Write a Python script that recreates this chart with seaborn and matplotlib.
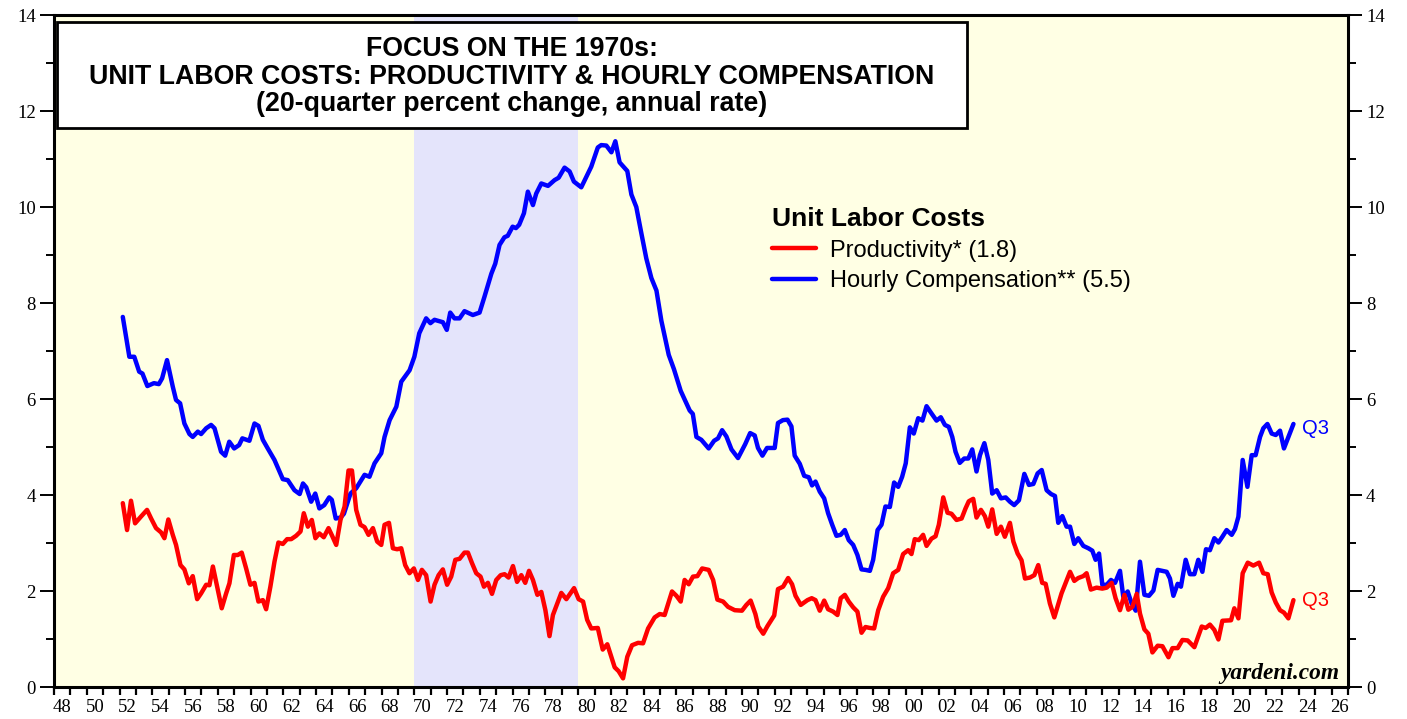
import matplotlib
matplotlib.use("Agg")
import matplotlib.pyplot as plt
from matplotlib.patches import Rectangle
from matplotlib.ticker import MultipleLocator
import seaborn as sns

# Hourly compensation, 20-quarter % change, annual rate
comp_year = [1952.2, 1952.6, 1952.9, 1953.2, 1953.4, 1953.7, 1954.1, 1954.4, 1954.6, 1954.9,
             1955.25, 1955.45, 1955.7, 1955.96, 1956.27, 1956.47, 1956.78, 1956.98, 1957.29, 1957.59,
             1957.8, 1958.2, 1958.45, 1958.7, 1959.0, 1959.3, 1959.5, 1959.93, 1960.24, 1960.48,
             1960.75, 1961.05, 1961.46, 1961.97, 1962.27, 1962.68, 1963.0, 1963.2, 1963.4, 1963.7,
             1963.95, 1964.2, 1964.5, 1964.8, 1964.96, 1965.2, 1965.5, 1965.7, 1966.1, 1966.45,
             1966.96, 1967.26, 1967.57, 1967.98, 1968.18, 1968.49, 1968.9, 1969.2, 1969.71, 1970.0,
             1970.3, 1970.72, 1970.98, 1971.23, 1971.74, 1971.98, 1972.19, 1972.45, 1972.76, 1973.06,
             1973.57, 1973.98, 1974.28, 1974.7, 1974.94, 1975.2, 1975.5, 1975.7, 1976.0, 1976.2,
             1976.4, 1976.69, 1976.93, 1977.24, 1977.44, 1977.75, 1978.16, 1978.56, 1978.81, 1979.17,
             1979.48, 1979.74, 1980.19, 1980.6, 1980.8, 1981.2, 1981.41, 1981.72, 1982.03, 1982.27,
             1982.53, 1983.0, 1983.25, 1983.55, 1983.86, 1984.16, 1984.47, 1984.78, 1985.08, 1985.53,
             1985.85, 1986.26, 1986.5, 1986.81, 1987.0, 1987.22, 1987.52, 1987.97, 1988.3, 1988.54,
             1988.79, 1989.05, 1989.36, 1989.76, 1990.2, 1990.5, 1990.78, 1990.98, 1991.25, 1991.53,
             1992.0, 1992.2, 1992.5, 1992.78, 1993.02, 1993.22, 1993.53, 1993.8, 1994.08, 1994.28,
             1994.49, 1994.75, 1995.02, 1995.26, 1995.51, 1995.77, 1996.03, 1996.28, 1996.52, 1996.79,
             1997.05, 1997.3, 1997.54, 1997.81, 1998.01, 1998.28, 1998.52, 1998.76, 1999.03, 1999.29,
             1999.54, 1999.78, 2000.0, 2000.25, 2000.49, 2000.76, 2001.02, 2001.27, 2001.57, 2001.88,
             2002.14, 2002.39, 2002.63, 2002.84, 2003.04, 2003.3, 2003.57, 2003.82, 2004.06, 2004.32,
             2004.53, 2004.8, 2005.04, 2005.28, 2005.55, 2005.81, 2006.1, 2006.36, 2006.62, 2006.91,
             2007.24, 2007.52, 2007.79, 2008.05, 2008.3, 2008.6, 2008.87, 2009.11, 2009.31, 2009.56,
             2009.82, 2010.03, 2010.29, 2010.53, 2010.84, 2011.15, 2011.39, 2011.59, 2011.8, 2012.0,
             2012.27, 2012.53, 2012.78, 2013.08, 2013.28, 2013.55, 2013.79, 2014.04, 2014.3, 2014.57,
             2014.85, 2015.12, 2015.38, 2015.67, 2015.93, 2016.13, 2016.34, 2016.6, 2016.8, 2017.09,
             2017.35, 2017.62, 2017.86, 2018.11, 2018.33, 2018.57, 2018.84, 2019.09, 2019.33, 2019.59,
             2019.9, 2020.1, 2020.31, 2020.57, 2020.86, 2021.12, 2021.36, 2021.63, 2021.83, 2022.08,
             2022.34, 2022.59, 2022.85, 2023.09, 2023.36, 2023.67]
comp_val = [7.71, 6.88, 6.88, 6.57, 6.53, 6.27, 6.33, 6.31, 6.43, 6.81,
            6.26, 5.98, 5.91, 5.49, 5.27, 5.21, 5.32, 5.27, 5.39, 5.46,
            5.39, 4.90, 4.82, 5.11, 4.97, 5.04, 5.18, 5.13, 5.49, 5.44,
            5.15, 4.97, 4.73, 4.33, 4.31, 4.10, 4.02, 4.24, 4.16, 3.86,
            4.03, 3.72, 3.79, 3.95, 3.90, 3.51, 3.53, 3.61, 4.03, 4.14,
            4.42, 4.38, 4.66, 4.87, 5.21, 5.56, 5.84, 6.36, 6.60, 6.88,
            7.37, 7.68, 7.58, 7.65, 7.60, 7.44, 7.80, 7.68, 7.68, 7.83,
            7.75, 7.80, 8.13, 8.61, 8.82, 9.21, 9.37, 9.40, 9.59, 9.56,
            9.63, 9.87, 10.32, 10.04, 10.28, 10.49, 10.44, 10.56, 10.61, 10.82,
            10.74, 10.53, 10.41, 10.70, 10.84, 11.24, 11.29, 11.28, 11.14, 11.37,
            10.93, 10.75, 10.26, 10.00, 9.45, 8.93, 8.52, 8.26, 7.63, 6.92,
            6.62, 6.17, 5.99, 5.76, 5.69, 5.21, 5.15, 4.97, 5.13, 5.18,
            5.35, 5.22, 4.95, 4.77, 5.06, 5.29, 5.24, 4.98, 4.82, 4.98,
            4.98, 5.50, 5.56, 5.57, 5.43, 4.82, 4.65, 4.40, 4.37, 4.20,
            4.28, 4.07, 3.93, 3.62, 3.38, 3.15, 3.17, 3.27, 3.06, 2.96,
            2.75, 2.45, 2.44, 2.42, 2.65, 3.27, 3.38, 3.76, 3.75, 4.26,
            4.17, 4.38, 4.66, 5.41, 5.28, 5.60, 5.55, 5.85, 5.70, 5.55,
            5.62, 5.46, 5.42, 5.21, 4.90, 4.67, 4.76, 4.76, 4.95, 4.49,
            4.83, 5.08, 4.73, 4.03, 4.10, 3.93, 3.95, 3.86, 3.79, 3.89,
            4.44, 4.21, 4.23, 4.45, 4.52, 4.10, 4.02, 3.98, 3.42, 3.56,
            3.34, 3.34, 2.98, 3.10, 2.94, 2.89, 2.84, 2.65, 2.78, 2.13,
            2.13, 2.23, 2.17, 2.42, 1.88, 1.99, 1.74, 1.59, 2.61, 1.92,
            1.90, 2.01, 2.44, 2.42, 2.40, 2.26, 1.90, 2.15, 2.09, 2.65,
            2.35, 2.35, 2.65, 2.40, 2.87, 2.85, 3.10, 3.01, 3.13, 3.27,
            3.17, 3.29, 3.55, 4.73, 4.17, 4.83, 4.83, 5.21, 5.39, 5.48,
            5.28, 5.25, 5.34, 4.97, 5.21, 5.48]

# Productivity, 20-quarter % change, annual rate
prod_year = [1952.2, 1952.46, 1952.7, 1952.95, 1953.31, 1953.68, 1953.93, 1954.23, 1954.54, 1954.74,
             1954.98, 1955.25, 1955.45, 1955.72, 1955.96, 1956.23, 1956.47, 1956.74, 1956.98, 1957.29,
             1957.49, 1957.7, 1957.96, 1958.24, 1958.5, 1958.71, 1958.98, 1959.22, 1959.46, 1959.73,
             1959.99, 1960.24, 1960.48, 1960.75, 1960.95, 1961.21, 1961.46, 1961.7, 1961.97, 1962.23,
             1962.48, 1962.78, 1963.05, 1963.25, 1963.5, 1963.74, 1963.96, 1964.2, 1964.47, 1964.76,
             1964.98, 1965.23, 1965.49, 1965.74, 1965.98, 1966.19, 1966.45, 1966.71, 1966.96, 1967.2,
             1967.47, 1967.73, 1967.98, 1968.18, 1968.45, 1968.69, 1968.95, 1969.2, 1969.44, 1969.7,
             1969.97, 1970.22, 1970.46, 1970.72, 1970.99, 1971.23, 1971.48, 1971.74, 1972.0, 1972.25,
             1972.5, 1972.76, 1973.06, 1973.27, 1973.52, 1973.78, 1974.04, 1974.25, 1974.49, 1974.74,
             1975.0, 1975.27, 1975.51, 1975.75, 1976.02, 1976.27, 1976.53, 1976.77, 1977.0, 1977.24,
             1977.51, 1977.75, 1978.0, 1978.25, 1978.46, 1978.97, 1979.28, 1979.75, 1980.03, 1980.3,
             1980.55, 1980.8, 1981.2, 1981.5, 1981.78, 1982.23, 1982.47, 1982.74, 1983.0, 1983.29,
             1983.66, 1983.96, 1984.27, 1984.67, 1984.98, 1985.28, 1985.73, 1986.0, 1986.26, 1986.5,
             1986.75, 1987.01, 1987.28, 1987.57, 1987.97, 1988.24, 1988.5, 1988.85, 1989.15, 1989.56,
             1990.0, 1990.27, 1990.53, 1990.82, 1991.0, 1991.3, 1991.56, 1991.97, 1992.2, 1992.51,
             1992.82, 1993.06, 1993.27, 1993.59, 1994.0, 1994.26, 1994.49, 1994.75, 1995.02, 1995.26,
             1995.57, 1995.83, 1996.03, 1996.28, 1996.52, 1996.79, 1997.05, 1997.3, 1997.54, 1997.81,
             1998.07, 1998.32, 1998.62, 1998.93, 1999.23, 1999.54, 1999.84, 2000.15, 2000.35, 2000.55,
             2000.8, 2001.06, 2001.27, 2001.57, 2001.82, 2002.02, 2002.29, 2002.55, 2002.79, 2003.1,
             2003.41, 2003.65, 2003.85, 2004.12, 2004.32, 2004.59, 2004.83, 2005.04, 2005.28, 2005.55,
             2005.81, 2006.05, 2006.36, 2006.57, 2006.83, 2007.07, 2007.28, 2007.58, 2007.85, 2008.09,
             2008.33, 2008.54, 2008.8, 2009.07, 2009.51, 2010.03, 2010.29, 2010.53, 2010.84, 2011.04,
             2011.3, 2011.65, 2012.0, 2012.27, 2012.57, 2012.81, 2013.08, 2013.35, 2013.59, 2013.84,
             2014.1, 2014.3, 2014.57, 2014.81, 2015.06, 2015.38, 2015.67, 2016.04, 2016.28, 2016.6,
             2016.89, 2017.21, 2017.62, 2018.07, 2018.31, 2018.57, 2018.84, 2019.09, 2019.33, 2019.86,
             2020.06, 2020.31, 2020.57, 2020.88, 2021.22, 2021.57, 2021.83, 2022.1, 2022.34, 2022.59,
             2022.85, 2023.09, 2023.36, 2023.67]
prod_val = [3.83, 3.27, 3.88, 3.41, 3.55, 3.69, 3.51, 3.31, 3.22, 3.10,
            3.49, 3.17, 2.96, 2.54, 2.45, 2.16, 2.31, 1.83, 1.95, 2.13,
            2.12, 2.51, 2.09, 1.64, 1.94, 2.16, 2.75, 2.75, 2.80, 2.47,
            2.13, 2.17, 1.78, 1.81, 1.62, 2.09, 2.61, 3.01, 2.98, 3.08,
            3.08, 3.15, 3.24, 3.62, 3.34, 3.48, 3.10, 3.20, 3.12, 3.31,
            3.15, 2.96, 3.48, 3.76, 4.51, 4.51, 3.69, 3.38, 3.33, 3.17,
            3.31, 3.03, 2.96, 3.38, 3.42, 2.89, 2.87, 2.89, 2.54, 2.37,
            2.47, 2.23, 2.44, 2.33, 1.78, 2.13, 2.33, 2.45, 2.13, 2.30,
            2.65, 2.67, 2.80, 2.80, 2.58, 2.37, 2.30, 2.09, 2.17, 1.94,
            2.23, 2.33, 2.35, 2.28, 2.52, 2.19, 2.33, 2.17, 2.42, 2.23,
            1.92, 1.98, 1.60, 1.06, 1.50, 1.96, 1.83, 2.06, 1.83, 1.78,
            1.40, 1.22, 1.23, 0.78, 0.89, 0.41, 0.33, 0.18, 0.63, 0.87,
            0.92, 0.91, 1.22, 1.45, 1.52, 1.50, 1.99, 1.90, 1.78, 2.23,
            2.14, 2.30, 2.31, 2.47, 2.44, 2.23, 1.82, 1.78, 1.67, 1.60,
            1.59, 1.71, 1.80, 1.52, 1.26, 1.11, 1.27, 1.49, 2.04, 2.09,
            2.27, 2.14, 1.90, 1.71, 1.81, 1.85, 1.81, 1.59, 1.80, 1.62,
            1.57, 1.50, 1.85, 1.92, 1.78, 1.66, 1.57, 1.13, 1.25, 1.23,
            1.22, 1.60, 1.88, 2.06, 2.37, 2.44, 2.77, 2.85, 2.77, 3.08,
            3.06, 3.17, 2.94, 3.09, 3.14, 3.38, 3.95, 3.63, 3.61, 3.48,
            3.51, 3.72, 3.87, 3.92, 3.53, 3.69, 3.56, 3.34, 3.70, 3.19,
            3.34, 3.13, 3.42, 3.03, 2.78, 2.64, 2.26, 2.28, 2.33, 2.54,
            2.17, 2.15, 1.74, 1.45, 1.95, 2.40, 2.21, 2.27, 2.31, 2.37,
            2.03, 2.07, 2.05, 2.07, 2.17, 1.85, 1.60, 1.92, 1.61, 1.67,
            1.94, 1.53, 1.20, 1.11, 0.72, 0.86, 0.85, 0.62, 0.81, 0.81,
            0.98, 0.97, 0.83, 1.26, 1.23, 1.30, 1.19, 0.99, 1.38, 1.39,
            1.64, 1.43, 2.37, 2.59, 2.53, 2.59, 2.37, 2.35, 1.97, 1.76,
            1.60, 1.55, 1.43, 1.81]

series_labels = ["Productivity* (1.8)", "Hourly Compensation** (5.5)"]
title_lines = ["FOCUS ON THE 1970s:",
               "UNIT LABOR COSTS: PRODUCTIVITY & HOURLY COMPENSATION",
               "(20-quarter percent change, annual rate)"]
year_ticks = list(range(1948, 2027, 2))
year_labels = [f"{y % 100:02d}" for y in year_ticks]
shade_span = (1970, 1980)

RED, BLUE = "#FF0000", "#0000FF"

sns.set_style("ticks")
plt.rcParams["font.family"] = ["Liberation Sans", "DejaVu Sans"]
plt.rcParams["text.color"] = "black"

W, H = 1407, 719
fig = plt.figure(figsize=(W / 100, H / 100), dpi=100)
ax = fig.add_axes([54 / W, 32 / H, 1294 / W, 672 / H])
ax.set_facecolor("#FFFFE4")
ax.axvspan(*shade_span, color="#E4E4FB", lw=0, zorder=0)

sns.lineplot(x=comp_year, y=comp_val, ax=ax, color=BLUE, lw=3.2, zorder=3)
sns.lineplot(x=prod_year, y=prod_val, ax=ax, color=RED, lw=3.2, zorder=4)

ax.set_xlim(1948, 2027)
ax.set_ylim(0, 14)
ax.set_xlabel("")
ax.set_ylabel("")

# x labels sit between yearly ticks
ax.set_xticks([y + 0.5 for y in year_ticks])
ax.set_xticklabels(year_labels)
ax.xaxis.set_minor_locator(MultipleLocator(1))
ax.tick_params(axis="x", which="major", length=0, pad=9)
ax.tick_params(axis="x", which="minor", length=5.5, width=1.6, direction="out")

ax.set_yticks(range(0, 15, 2))
ax.yaxis.set_minor_locator(MultipleLocator(1))
ax.tick_params(axis="y", which="both", left=True, right=True,
               labelleft=True, labelright=True, direction="out")
ax.tick_params(axis="y", which="major", length=10, width=1.4, pad=3)
ax.tick_params(axis="y", which="minor", length=5.5, width=1.4)
ax.tick_params(which="both", color="black")
ax.tick_params(which="major", labelsize=13.5, labelcolor="black",
               labelfontfamily="Liberation Serif")

for s in ax.spines.values():
    s.set_color("black")
    s.set_linewidth(2.2)

# title box
fig.add_artist(Rectangle((57 / W, 1 - 128 / H), 910 / W, 106 / H,
                         transform=fig.transFigure, facecolor="white",
                         edgecolor="black", lw=2.0, zorder=5))
for txt, yc in zip(title_lines, [49, 77, 104]):
    fig.text(512 / W, 1 - yc / H, txt, ha="center", va="center", color="black",
             fontsize=19.3, fontweight="bold", zorder=6)

# legend
handles = [plt.Line2D([], [], color=RED, lw=3.2),
           plt.Line2D([], [], color=BLUE, lw=3.2)]
leg = ax.legend(handles, series_labels, title="Unit Labor Costs",
                loc="upper left", bbox_to_anchor=(772 / W, 1 - 207 / H),
                bbox_transform=fig.transFigure, frameon=False,
                fontsize=17, handlelength=1.85, handletextpad=0.62,
                labelspacing=0.36, borderpad=0, borderaxespad=0,
                alignment="left",
                title_fontproperties={"weight": "bold", "size": 19})
leg.get_title().set_color("black")
for t in leg.get_texts():
    t.set_color("black")

# end-of-line labels
ax.annotate("Q3", xy=(comp_year[-1], comp_val[-1]), xytext=(6, -3),
            textcoords="offset points", color=BLUE, fontsize=14.5, va="center")
ax.annotate("Q3", xy=(prod_year[-1], prod_val[-1]), xytext=(6, 0),
            textcoords="offset points", color=RED, fontsize=14.5, va="center")

ax.text(0.9935, 0.004, "yardeni.com", transform=ax.transAxes, ha="right",
        va="bottom", fontsize=16.8, fontweight="bold", fontstyle="italic",
        family="Liberation Serif", color="black")

fig.savefig("out.png", dpi=100)
